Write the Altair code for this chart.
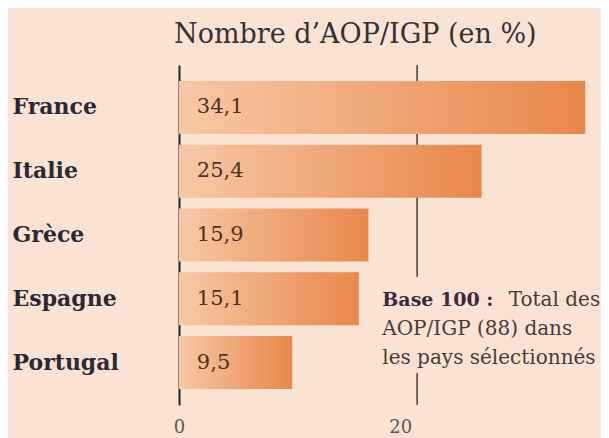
import altair as alt
import pandas as pd

countries = ["France", "Italie", "Grèce", "Espagne", "Portugal"]
values = [34.1, 25.4, 15.9, 15.1, 9.5]
value_labels = ["34,1", "25,4", "15,9", "15,1", "9,5"]
x_ticks = [0, 20]
title_text = "Nombre d’AOP/IGP (en %)"
note_bold = "Base 100 :"
note_first = "Total des"
note_lines = ["AOP/IGP (88) dans", "les pays sélectionnés"]

df = pd.DataFrame({"pays": countries, "val": values, "lab": value_labels})

FONT = "DejaVu Serif"
BG = "#fbe3d4"

grad = alt.LinearGradient(
    gradient="linear",
    stops=[alt.GradientStop(color="#f7c8a6", offset=0),
           alt.GradientStop(color="#f0a676", offset=0.5),
           alt.GradientStop(color="#e8874b", offset=1)],
    x1=0, x2=1, y1=0, y2=0,
)

xscale = alt.Scale(domain=[0, 35], nice=False, zero=True)
x = alt.X("val:Q", scale=xscale,
          axis=alt.Axis(values=x_ticks, title=None, domain=False, ticks=False, grid=False,
                        labelFlush=False,
                        labelOffset={"condition": {"test": "datum.value == 20", "value": -17}, "value": 0},
                        labelFont=FONT, labelFontSize=18, labelColor="#5a5a5a", labelPadding=13))
y = alt.Y("pays:N", sort=countries,
          scale=alt.Scale(paddingInner=0.17, paddingOuter=0.25),
          axis=alt.Axis(title=None, domain=True, domainColor="#222", domainWidth=2, ticks=False,
                        labelAlign="left", labelPadding=167, labelFont=FONT, labelFontSize=22,
                        labelFontWeight="bold", labelColor="#2a2a35"))

base = alt.Chart(df)

rule = base.mark_rule(color="#555", strokeWidth=1).encode(x=alt.datum(20, scale=xscale))
bars = base.mark_bar(color=grad).encode(x=x, y=y)
labels = base.mark_text(align="left", baseline="middle", font=FONT, fontSize=21, color="#4a3328").encode(
    x=alt.datum(1.5), y=alt.Y("pays:N", sort=countries), text="lab:N")

cover = base.mark_rect(color=BG).encode(
    x=alt.datum(19.2), x2=alt.datum(20.8), y=alt.value(212), y2=alt.value(308))

nb = alt.Chart(pd.DataFrame({"t": [note_bold]})).mark_text(
    align="left", baseline="middle", font=FONT, fontSize=19, fontWeight="bold", color="#3a2a3a"
).encode(x=alt.datum(17.06), y=alt.value(235), text="t:N")
nf = alt.Chart(pd.DataFrame({"t": [note_first]})).mark_text(
    align="right", baseline="middle", font=FONT, fontSize=20, color="#4a3a3a"
).encode(x=alt.datum(35.35), y=alt.value(235), text="t:N")
nl1 = alt.Chart(pd.DataFrame({"t": [note_lines[0]]})).mark_text(
    align="left", baseline="middle", font=FONT, fontSize=20, color="#4a3a3a"
).encode(x=alt.datum(17.06), y=alt.value(264), text="t:N")
nl2 = alt.Chart(pd.DataFrame({"t": [note_lines[1]]})).mark_text(
    align="left", baseline="middle", font=FONT, fontSize=20, color="#4a3a3a"
).encode(x=alt.datum(17.06), y=alt.value(293), text="t:N")

chart = alt.layer(rule, cover, bars, labels, nb, nf, nl1, nl2).properties(
    width=417, height=340,
    padding={"left": 171, "top": 57, "right": 5, "bottom": 33},
    autosize="none",
    background=BG,
    title=alt.TitleParams(title_text, font=FONT, fontSize=27, fontWeight="normal",
                          anchor="start", frame="group", color="#333333", dx=-5, offset=16),
).configure_view(stroke=None)

chart.save("out.html", embed_options={"renderer": "svg", "actions": False})
